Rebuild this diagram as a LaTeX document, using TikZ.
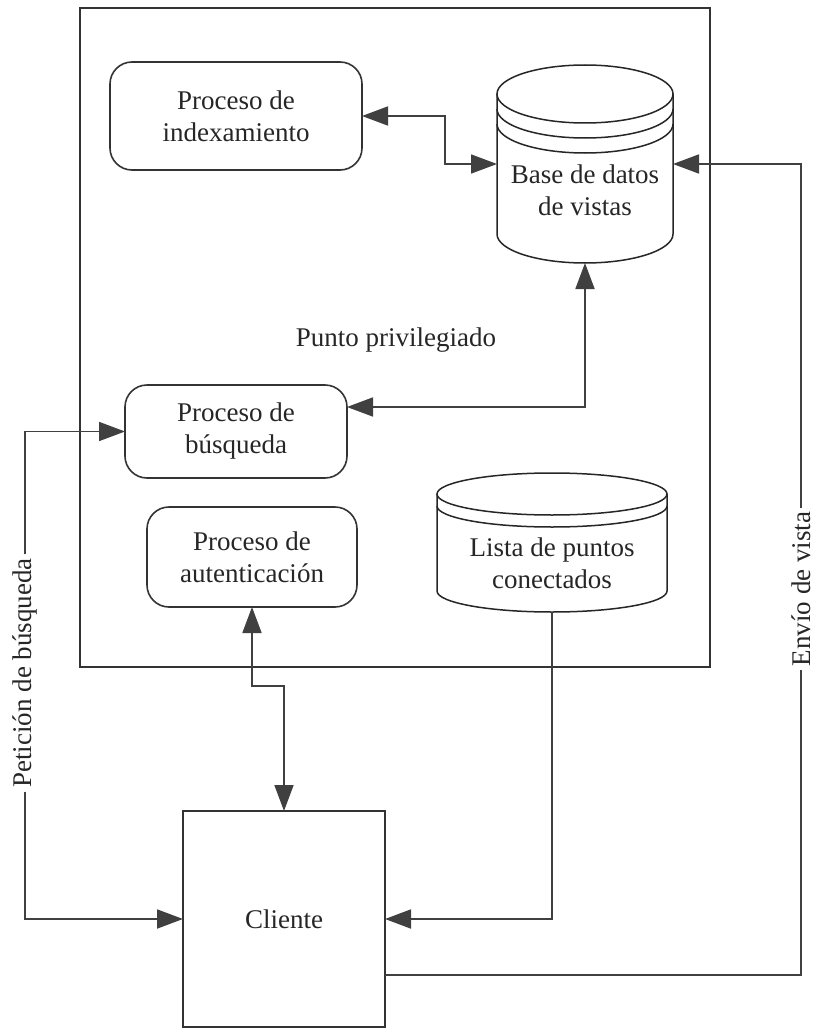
\documentclass[tikz,border=0pt]{standalone}
\usepackage{fontspec}
\setmainfont{Liberation Serif}
\usetikzlibrary{arrows.meta}
\begin{document}
\begin{tikzpicture}[x=1pt,y=-1pt,
  every node/.style={outer sep=0pt, inner sep=0pt, text=black!85,
    font=\fontsize{27}{32}\selectfont, align=center},
  procbox/.style={draw=black!80, line width=1.6pt, rounded corners=22pt},
  plainbox/.style={draw=black!80, line width=1.6pt},
  dbline/.style={draw=black!85, line width=1.5pt},
  conn/.style={draw=black!75, line width=1.8pt},
  tip/.style={-{Triangle[length=26pt,width=19pt]}},
  bitip/.style={{Triangle[length=26pt,width=19pt]}-{Triangle[length=26pt,width=19pt]}},
  sidelabel/.style={rotate=90, fill=white, inner xsep=4pt}
]
\useasboundingbox (0,0) rectangle (814,1030);

% privileged peer frame
\node[plainbox, minimum width=630pt, minimum height=659pt] (peer) at (395,337.5) {};
\node (pp) at (396,340) {Punto privilegiado};

% processes
\node[procbox, minimum width=252pt, minimum height=108pt] (idx) at (236,116)
  {Proceso de\\indexamiento};
\node[procbox, minimum width=222pt, minimum height=93pt] (bus) at (236,431.5)
  {Proceso de\\búsqueda};
\node[procbox, minimum width=210pt, minimum height=100pt] (auth) at (252,557)
  {Proceso de\\autenticación};

% view database (cylinder)
\node[minimum width=176pt, minimum height=198pt] (bdv) at (585,164) {};
\draw[dbline] (585,94) ellipse [x radius=88, y radius=29];
\draw[dbline] (497,109) arc[start angle=180, end angle=0, x radius=88, y radius=29];
\draw[dbline] (497,124) arc[start angle=180, end angle=0, x radius=88, y radius=29];
\draw[dbline] (497,94) -- (497,234) arc[start angle=180, end angle=0, x radius=88, y radius=29] -- (673,94);
\node (bdvtext) at (585,190) {Base de datos\\de vistas};

% connected peers list (cylinder)
\node[minimum width=230pt, minimum height=139pt] (lista) at (552,542.5) {};
\draw[dbline] (552,494) ellipse [x radius=115, y radius=21];
\draw[dbline] (437,506) arc[start angle=180, end angle=0, x radius=115, y radius=21];
\draw[dbline] (437,494) -- (437,591) arc[start angle=180, end angle=0, x radius=115, y radius=21] -- (667,494);
\node (listatext) at (552,563) {Lista de puntos\\conectados};

% client
\node[plainbox, minimum width=202pt, minimum height=216pt] (cli) at (284,919) {Cliente};

% side labels
\node[sidelabel] (lblp) at (25,673) {Petición de búsqueda};
\node[sidelabel] (lble) at (801,589) {Envío de vista};

% connectors
\draw[conn, bitip] (idx.east) -- ++(83,0) |- (bdv.west);
\draw[conn, bitip] ([yshift=24.5pt]bus.east) -| (bdv.south);
\draw[conn, bitip] (auth.south) -- ++(0,79) -| (cli.north);
\draw[conn, tip] (lista.south) |- (cli.east);
\draw[conn, tip] (lblp.east) |- (bus.west);
\draw[conn, tip] (lblp.west) |- (cli.west);
\draw[conn, tip] (lble.east) |- (bdv.east);
\draw[conn] (lble.west) |- ([yshift=-56pt]cli.east);
\end{tikzpicture}
\end{document}
